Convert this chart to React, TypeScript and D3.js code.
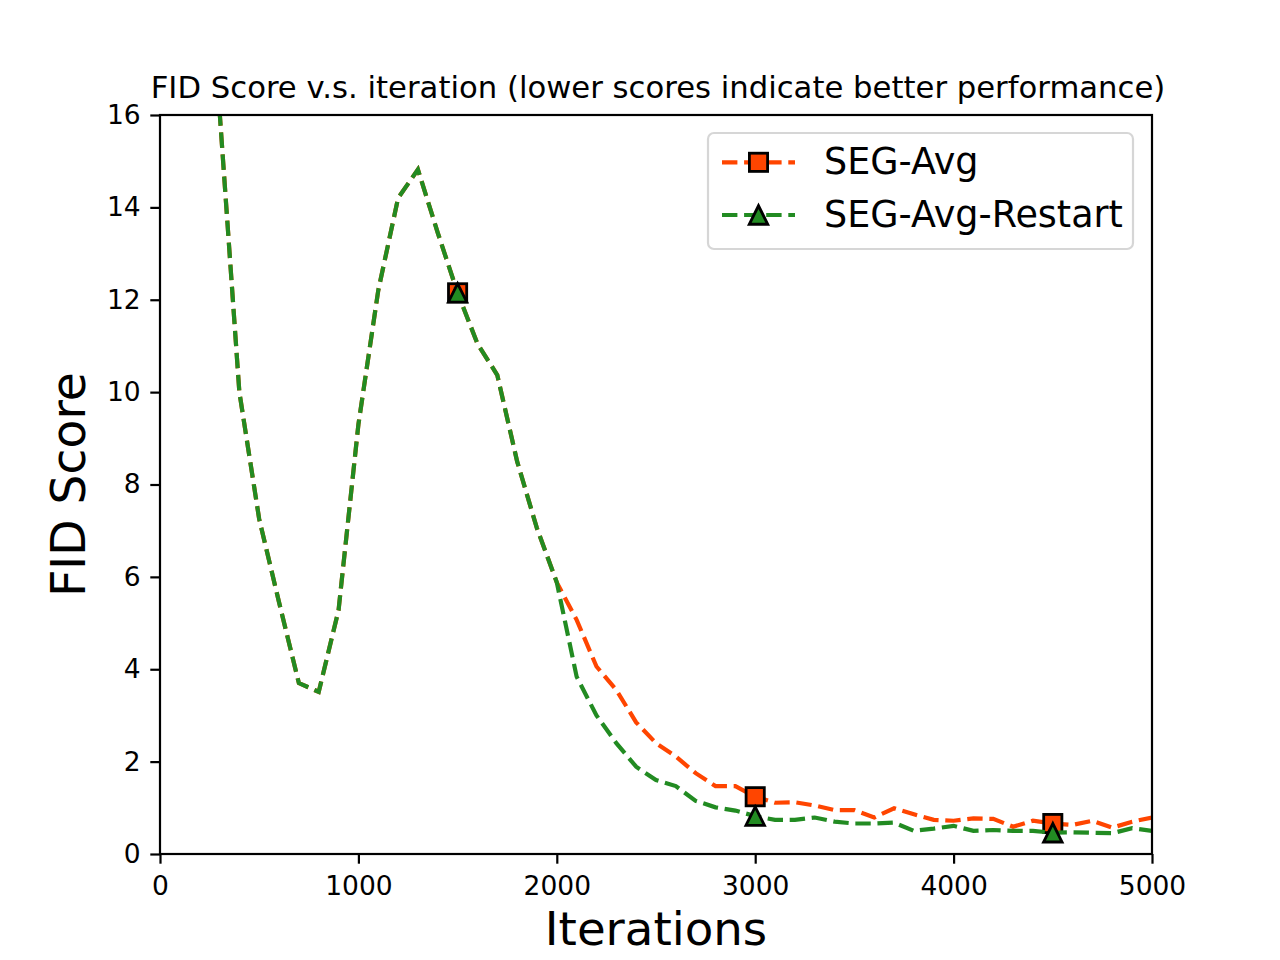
import { useEffect, useRef } from 'react';
import * as d3 from 'd3';

// iterations shared by both runs (identical until the restart at 2000)
const sharedIterations = [300, 400, 500, 600, 700, 800, 900, 1000, 1100, 1200, 1300, 1400, 1500, 1600, 1700, 1800, 1900];
const sharedScores = [16.1, 10.0, 7.25, 5.45, 3.7, 3.51, 5.28, 9.3, 12.2, 14.2, 14.82, 13.45, 12.15, 11.05, 10.37, 8.5, 7.05];

const tailIterations = [
  2000, 2100, 2200, 2300, 2400, 2500, 2600, 2700, 2800, 2900, 3000, 3100, 3200, 3300, 3400, 3500,
  3600, 3700, 3800, 3900, 4000, 4100, 4200, 4300, 4400, 4500, 4600, 4700, 4800, 4900, 5000,
];
const segAvgTail = [
  5.88, 5.07, 4.06, 3.55, 2.85, 2.4, 2.11, 1.75, 1.47, 1.47, 1.24, 1.11, 1.12, 1.05, 0.95, 0.95,
  0.79, 0.99, 0.86, 0.74, 0.72, 0.77, 0.76, 0.59, 0.72, 0.66, 0.63, 0.72, 0.57, 0.7, 0.79,
];
const segAvgRestartTail = [
  5.88, 3.84, 3.0, 2.4, 1.89, 1.6, 1.47, 1.15, 1.01, 0.94, 0.82, 0.74, 0.74, 0.79, 0.7, 0.66,
  0.66, 0.68, 0.5, 0.55, 0.61, 0.5, 0.52, 0.5, 0.5, 0.46, 0.47, 0.46, 0.45, 0.56, 0.5,
];

const markerIterations = [1500, 3000, 4500];
const xTicks = [0, 1000, 2000, 3000, 4000, 5000];
const yTicks = [0, 2, 4, 6, 8, 10, 12, 14, 16];

const seriesNames = ['SEG-Avg', 'SEG-Avg-Restart'];
const seriesColors = ['#ff4500', '#228b22'];
const seriesMarkers = ['square', 'triangle'];

const titleText = 'FID Score v.s. iteration (lower scores indicate better performance)';
const xLabel = 'Iterations';
const yLabel = 'FID Score';

const FONT = '"DejaVu Sans", sans-serif';

type Point = { iter: number; score: number };

const FidChart = () => {
  const svgRef = useRef<SVGSVGElement>(null);

  useEffect(() => {
    if (!svgRef.current) return;
    const svg = d3.select(svgRef.current);
    svg.selectAll('*').remove();

    const width = 1280;
    const height = 960;
    const margin = { top: 115, right: 128, bottom: 106, left: 160 };
    const innerW = width - margin.left - margin.right;
    const innerH = height - margin.top - margin.bottom;

    const x = d3.scaleLinear().domain([0, 5000]).range([0, innerW]);
    const y = d3.scaleLinear().domain([0, 16]).range([innerH, 0]);

    svg.append('rect').attr('width', width).attr('height', height).attr('fill', '#fff');

    const defs = svg.append('defs');
    defs.append('clipPath').attr('id', 'plot-clip')
      .append('rect').attr('width', innerW).attr('height', innerH);

    const g = svg.append('g').attr('transform', `translate(${margin.left},${margin.top})`);

    const toPoints = (its: number[], vals: number[]): Point[] => its.map((it, i) => ({ iter: it, score: vals[i] }));
    const series: Point[][] = [
      [...toPoints(sharedIterations, sharedScores), ...toPoints(tailIterations, segAvgTail)],
      [...toPoints(sharedIterations, sharedScores), ...toPoints(tailIterations, segAvgRestartTail)],
    ];

    const line = d3.line<Point>().x(d => x(d.iter)).y(d => y(d.score));

    const drawMarker = (sel: d3.Selection<SVGGElement, unknown, null, undefined>, kind: string, color: string, cx: number, cy: number) => {
      if (kind === 'square') {
        const s = 18.2;
        sel.append('rect')
          .attr('x', cx - s / 2).attr('y', cy - s / 2)
          .attr('width', s).attr('height', s)
          .attr('fill', color).attr('stroke', '#000').attr('stroke-width', 2.8);
      } else {
        const s = 18.5;
        const tri = d3.path();
        tri.moveTo(cx, cy - s / 2);
        tri.lineTo(cx - s / 2, cy + s / 2);
        tri.lineTo(cx + s / 2, cy + s / 2);
        tri.closePath();
        sel.append('path').attr('d', tri.toString())
          .attr('fill', color).attr('stroke', '#000').attr('stroke-width', 2.8)
          .attr('stroke-linejoin', 'miter');
      }
    };

    const plot = g.append('g').attr('clip-path', 'url(#plot-clip)');
    series.forEach((pts, si) => {
      const sg = plot.append('g');
      sg.append('path')
        .datum(pts)
        .attr('d', line)
        .attr('fill', 'none')
        .attr('stroke', seriesColors[si])
        .attr('stroke-width', 4.2)
        .attr('stroke-dasharray', '15.4,6.7');
      pts.filter(p => markerIterations.includes(p.iter)).forEach(p => {
        drawMarker(sg, seriesMarkers[si], seriesColors[si], x(p.iter), y(p.score));
      });
    });

    // axes
    const xAxis = d3.axisBottom(x).tickValues(xTicks).tickSize(9.7).tickSizeOuter(0).tickPadding(12)
      .tickFormat(d => String(d));
    const gx = g.append('g').attr('transform', `translate(0,${innerH})`).call(xAxis);
    const yAxis = d3.axisLeft(y).tickValues(yTicks).tickSize(9.7).tickSizeOuter(0).tickPadding(9.7)
      .tickFormat(d => String(d));
    const gy = g.append('g').call(yAxis);
    [gx, gy].forEach(ax => {
      ax.select('.domain').remove();
      ax.selectAll('.tick line').attr('stroke', '#000').attr('stroke-width', 2.2);
      ax.selectAll('.tick text').attr('fill', '#000').style('font-family', FONT).style('font-size', '26.5px');
    });

    // frame
    g.append('rect')
      .attr('width', innerW).attr('height', innerH)
      .attr('fill', 'none').attr('stroke', '#000').attr('stroke-width', 2.2);

    // title & labels
    svg.append('text')
      .attr('x', margin.left + innerW / 2 + 2).attr('y', 98.3)
      .attr('text-anchor', 'middle')
      .style('font-family', FONT).style('font-size', '30.7px')
      .text(titleText);

    svg.append('text')
      .attr('x', margin.left + innerW / 2).attr('y', 945)
      .attr('text-anchor', 'middle')
      .style('font-family', FONT).style('font-size', '46.7px')
      .text(xLabel);

    svg.append('text')
      .attr('transform', `translate(85,${margin.top + innerH / 2}) rotate(-90)`)
      .attr('text-anchor', 'middle')
      .style('font-family', FONT).style('font-size', '47.2px')
      .text(yLabel);

    // legend
    const lg = svg.append('g');
    lg.append('rect')
      .attr('x', 708).attr('y', 133).attr('width', 425).attr('height', 116).attr('rx', 6)
      .attr('fill', '#fff').attr('fill-opacity', 0.8)
      .attr('stroke', '#d6d6d6').attr('stroke-width', 2.2);
    const rowY = [162.3, 215];
    seriesNames.forEach((name, i) => {
      const row = lg.append('g');
      row.append('line')
        .attr('x1', 722).attr('x2', 795).attr('y1', rowY[i]).attr('y2', rowY[i])
        .attr('stroke', seriesColors[i]).attr('stroke-width', 4.2)
        .attr('stroke-dasharray', '15.4,6.7');
      drawMarker(row, seriesMarkers[i], seriesColors[i], 758.5, rowY[i]);
      row.append('text')
        .attr('x', 824).attr('y', rowY[i] + 11.5)
        .style('font-family', FONT).style('font-size', '36.5px')
        .text(name);
    });
  }, []);

  return <svg ref={svgRef} width={1280} height={960} style={{ position: 'absolute', left: 0, top: 0 }} />;
};

export default function App() {
  return <FidChart />;
}
